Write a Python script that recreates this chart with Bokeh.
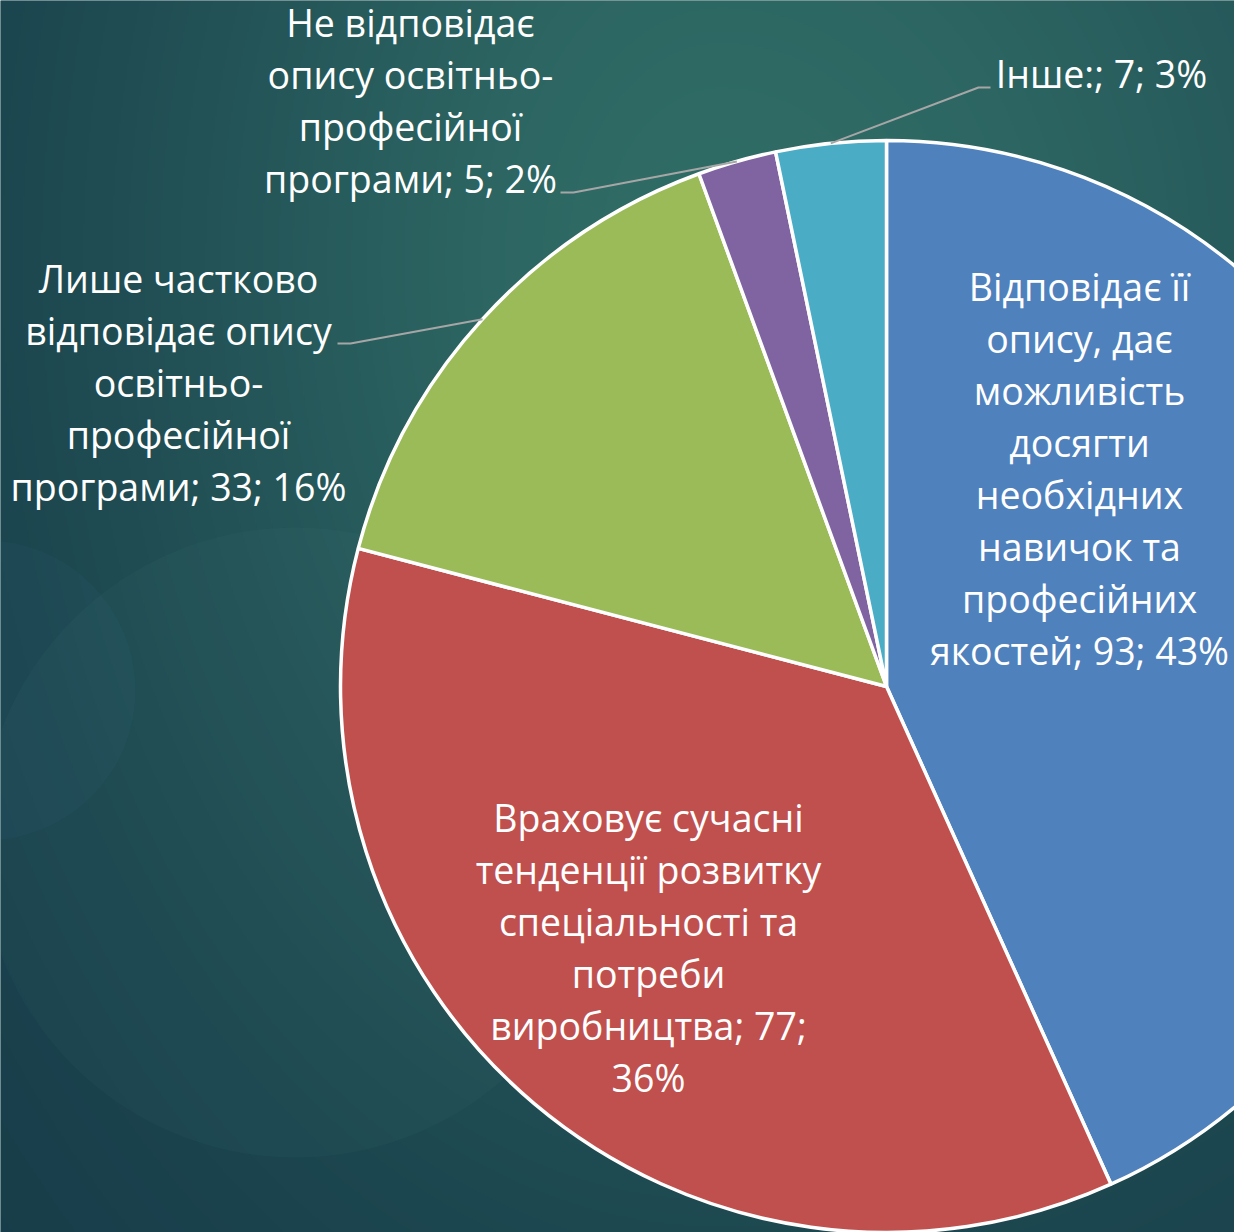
import numpy as np
from bokeh.plotting import figure
from bokeh.models import Range1d, ColumnDataSource
from bokeh.core.properties import value
from bokeh.embed import file_html
from bokeh.resources import INLINE

# ---------------- data ----------------
categories = [
    "Відповідає її опису, дає можливість досягти необхідних навичок та професійних якостей",
    "Враховує сучасні тенденції розвитку спеціальності та потреби виробництва",
    "Лише частково відповідає опису освітньо-професійної програми",
    "Не відповідає опису освітньо-професійної програми",
    "Інше:",
]
counts = [93, 77, 33, 5, 7]
percents = [43, 36, 16, 2, 3]
colors = ["#4f81bd", "#c0504d", "#9bbb59", "#8064a2", "#4bacc6"]
label_texts = [
    "Відповідає її\nопису, дає\nможливість\nдосягти\nнеобхідних\nнавичок та\nпрофесійних\nякостей; 93; 43%",
    "Враховує сучасні\nтенденції розвитку\nспеціальності та\nпотреби\nвиробництва; 77;\n36%",
    "Лише частково\nвідповідає опису\nосвітньо-\nпрофесійної\nпрограми; 33; 16%",
    "Не відповідає\nопису освітньо-\nпрофесійної\nпрограми; 5; 2%",
    "Інше:; 7; 3%",
]

# ---------------- layout ----------------
W, H = 1234, 1232
OFF = 0


def sx(x):
    return x - OFF


def sy(y):
    return H - (y - OFF)


CX, CY, R = sx(886), sy(686), 546
FONT = "Open Sans"
FS = 37.5
LINE = 52
TEXT_SHIFT = -14

# label anchors: (center x, first baseline y) in page pixels
label_anchor = [(1079, 300), (648, 831), (178, 292), (410, 36), (1101, 87)]
# leader lines: label end + elbow (page pixels), None for labels inside slices
leader_pts = [None, None, [(337, 343), (350, 343)], [(560, 192), (573, 192)], [(990, 87), (978, 87)]]

p = figure(width=W, height=H, output_backend="svg", toolbar_location=None,
           x_range=Range1d(0, W), y_range=Range1d(0, H),
           x_axis_location=None, y_axis_location=None,
           min_border=0, outline_line_color=None)
p.xgrid.visible = False
p.ygrid.visible = False
p.background_fill_color = "#1f4e55"
p.border_fill_color = "#1f4e55"

# ---------------- background gradient ----------------
hh, ww = H // 2, W // 2
ys, xs = np.mgrid[0:hh, 0:ww].astype(float)
X = xs * 2 + OFF
Y = ys * 2 + OFF
gx, gy = 720.0, 260.0
rx = np.where(X < gx, 620.0, 820.0)
d2 = ((X - gx) / rx) ** 2 + ((Y - gy) / 880.0) ** 2
t = np.exp(-d2)
dark = np.array([22, 58, 72], dtype=float)
light = np.array([48, 108, 102], dtype=float)
rgb = dark[None, None, :] + (light - dark)[None, None, :] * t[:, :, None]
img = np.zeros((hh, ww, 4), dtype=np.uint8)
img[:, :, :3] = np.clip(rgb, 0, 255).astype(np.uint8)
img[:, :, 3] = 255
img = np.ascontiguousarray(np.flipud(img))
p.image_rgba(image=[img.view(dtype=np.uint32).reshape((hh, ww))], x=0, y=0, dw=W, dh=H)

# faint decorative circles
p.circle(x=[sx(295)], y=[sy(842)], radius=315, fill_color="#5fa5a0", fill_alpha=0.05, line_color=None)
p.circle(x=[sx(-15)], y=[sy(690)], radius=150, fill_color="#3f8fa8", fill_alpha=0.06, line_color=None)

# ---------------- pie ----------------
total = float(sum(counts))
cum = np.concatenate([[0.0], np.cumsum(counts) / total])
start = np.pi / 2 - 2 * np.pi * cum[:-1]
end = np.pi / 2 - 2 * np.pi * cum[1:]
src = ColumnDataSource(dict(start=start, end=end, color=colors, cat=categories, n=counts, pct=percents))
p.wedge(x=CX, y=CY, radius=R, start_angle="start", end_angle="end", direction="clock",
        fill_color="color", line_color="white", line_width=3.5, source=src)

# ---------------- leader lines ----------------
mid = (start + end) / 2
for i, pts in enumerate(leader_pts):
    if pts is None:
        continue
    xs_l = [sx(pts[0][0]), sx(pts[1][0]), CX + R * np.cos(mid[i])]
    ys_l = [sy(pts[0][1]), sy(pts[1][1]), CY + R * np.sin(mid[i])]
    p.line(xs_l, ys_l, line_color="#a6a6a6", line_width=2)

# ---------------- labels ----------------
tx, ty, tt = [], [], []
for (ax, ay), txt in zip(label_anchor, label_texts):
    for k, line in enumerate(txt.split("\n")):
        tx.append(sx(ax))
        ty.append(sy(ay + TEXT_SHIFT + k * LINE))
        tt.append(line)
p.text(x=tx, y=ty, text=tt, text_align="center", text_baseline="alphabetic",
       text_font=value(FONT), text_font_size=f"{FS}px", text_color="#ffffff")

open("out.html", "w").write(file_html(p, INLINE))
